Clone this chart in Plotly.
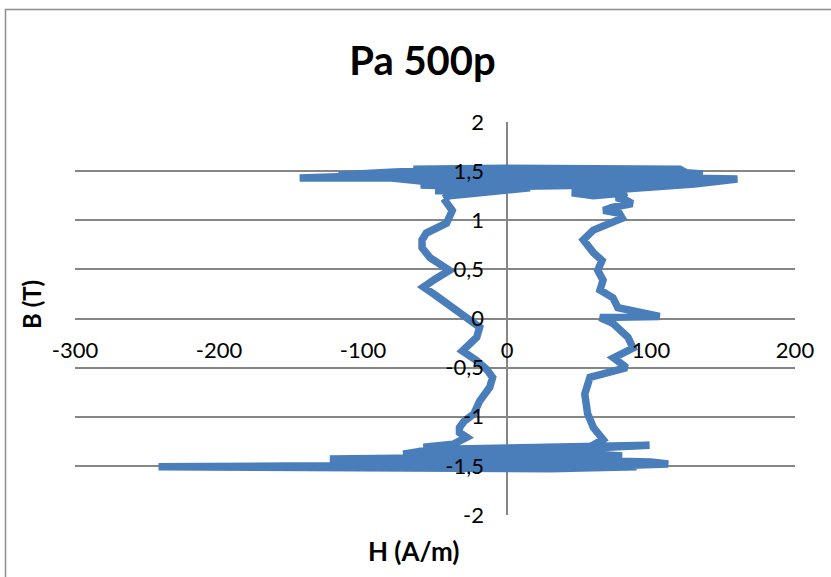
import plotly.graph_objects as go

# ---- data (H in A/m, B in T) ----
left_branch_H = [-44, -38, -42, -56, -59, -59, -53.5, -40, -50, -58, -50, -42, -33, -28,
                 -19, -21, -27, -31, -21, -14, -10, -12, -19, -23, -30, -33, -33, -28, -37.5]
left_branch_B = [1.22, 1.10, 0.97, 0.87, 0.80, 0.72, 0.62, 0.49, 0.40, 0.32, 0.24, 0.15, 0.05, 0.01,
                 -0.09, -0.19, -0.26, -0.33, -0.43, -0.52, -0.60, -0.70, -0.84, -0.97, -1.05, -1.11, -1.16, -1.21, -1.28]

bottom_sat_H = [-58, -45, 40, 99, 70, 40, -60, -72, -50, 60, 80, -60, -123, -90, 40, 100, 112, 70,
                -60, -150, -242, -160, -80, 30, 90, 60, -40, -70, 20, 50, -20, 55, 66.7]
bottom_sat_B = [-1.31, -1.33, -1.31, -1.29, -1.31, -1.34, -1.35, -1.38, -1.40, -1.38, -1.40, -1.42,
                -1.43, -1.45, -1.44, -1.46, -1.48, -1.50, -1.49, -1.50, -1.51, -1.52, -1.53, -1.53,
                -1.51, -1.47, -1.46, -1.44, -1.41, -1.37, -1.36, -1.33, -1.23]

right_branch_H = [60, 56, 54, 57.6, 83, 74, 87.5, 84, 73.6, 64.6, 106, 77, 73.6, 64.6, 66.7, 63, 66,
                  60, 53, 60, 80, 78, 67, 73, 87, 83, 76, 83]
right_branch_B = [-1.11, -0.97, -0.77, -0.60, -0.50, -0.40, -0.30, -0.19, -0.05, 0.01, 0.02, 0.11, 0.21,
                  0.29, 0.39, 0.49, 0.59, 0.67, 0.80, 0.90, 1.02, 1.07, 1.10, 1.13, 1.17, 1.20, 1.23, 1.28]

top_sat_H = [60, 45, 100, 130, 160, 120, -60, -80, -144, -110, -60, 80, 136, 110, -40, -78, -117,
             -70, 60, 125, 110, -30, -60, -20, 60, 110, 130, 120, 0, -65, -50, 50, 120, 90, 20,
             -30, -50, 0, 16, -7, -40]
top_sat_B = [1.25, 1.28, 1.33, 1.37, 1.42, 1.43, 1.40, 1.43, 1.43, 1.45, 1.47, 1.46, 1.47, 1.50,
             1.51, 1.49, 1.46, 1.44, 1.44, 1.41, 1.39, 1.38, 1.36, 1.34, 1.35, 1.37, 1.44, 1.52,
             1.53, 1.52, 1.49, 1.48, 1.45, 1.40, 1.36, 1.32, 1.30, 1.31, 1.33, 1.29, 1.25]

x_tickvals = [-300, -200, -100, 0, 100, 200]
x_ticktext = ["-300", "-200", "-100", "0", "100", "200"]
y_tickvals = [-2, -1.5, -1, -0.5, 0, 0.5, 1, 1.5, 2]
y_ticktext = ["-2", "-1,5", "-1", "-0,5", "0", "0,5", "1", "1,5", "2"]

H = left_branch_H + bottom_sat_H + right_branch_H + top_sat_H + [left_branch_H[0]]
B = left_branch_B + bottom_sat_B + right_branch_B + top_sat_B + [left_branch_B[0]]

W, Hgt = 831, 577
L, R, T, Bm = 75, 36, 122, 62
pw, ph = W - L - R, Hgt - T - Bm

def px(xp):
    return (xp - L) / pw

def py(yp):
    return (Hgt - Bm - yp) / ph

FONT = "Lato"
GRID = "#868686"

fig = go.Figure()
fig.add_trace(go.Scatter(x=H, y=B, mode="lines",
                         line=dict(color="#4A7EBB", width=7.5),
                         showlegend=False, hoverinfo="skip"))

fig.update_layout(
    width=W, height=Hgt,
    margin=dict(l=L, r=R, t=T, b=Bm),
    paper_bgcolor="white", plot_bgcolor="white",
    font=dict(family=FONT, size=22, color="black"),
    title=dict(text="<b>Pa 500p</b>", x=422.5 / W, xref="container", xanchor="center",
               y=1 - 61 / Hgt, yref="container", yanchor="middle",
               font=dict(family=FONT, size=40, color="black")),
    xaxis=dict(range=[-300, 200], tickvals=x_tickvals, ticktext=x_ticktext,
               showgrid=False, zeroline=True, zerolinecolor=GRID, zerolinewidth=1.5,
               showline=False, ticks="",
               anchor="free", position=0.5, ticklabelstandoff=16,
               tickfont=dict(family=FONT, size=22, color="black")),
    yaxis=dict(range=[-2, 2], tickvals=y_tickvals, ticktext=y_ticktext,
               showgrid=True, gridcolor=GRID, gridwidth=1.5, zeroline=False,
               showline=False, ticks="",
               anchor="free", position=0.6, ticklabelstandoff=23,
               tickfont=dict(family=FONT, size=22, color="black")),
    annotations=[
        dict(text="<b>H (A/m)</b>", x=px(413), y=py(551), xref="paper", yref="paper",
             showarrow=False, xanchor="center", yanchor="middle",
             font=dict(family=FONT, size=26, color="black")),
        dict(text="<b>B (T)</b>", x=px(31), y=py(305), xref="paper", yref="paper",
             showarrow=False, xanchor="center", yanchor="middle", textangle=-90,
             font=dict(family=FONT, size=24, color="black")),
    ],
    shapes=[
        dict(type="rect", xref="paper", yref="paper",
             x0=px(5.5), x1=px(834), y0=py(580), y1=py(9.5),
             line=dict(color="#8C8C8C", width=1.5), fillcolor="rgba(0,0,0,0)", layer="below"),
    ],
)

fig.write_html("out.html")
